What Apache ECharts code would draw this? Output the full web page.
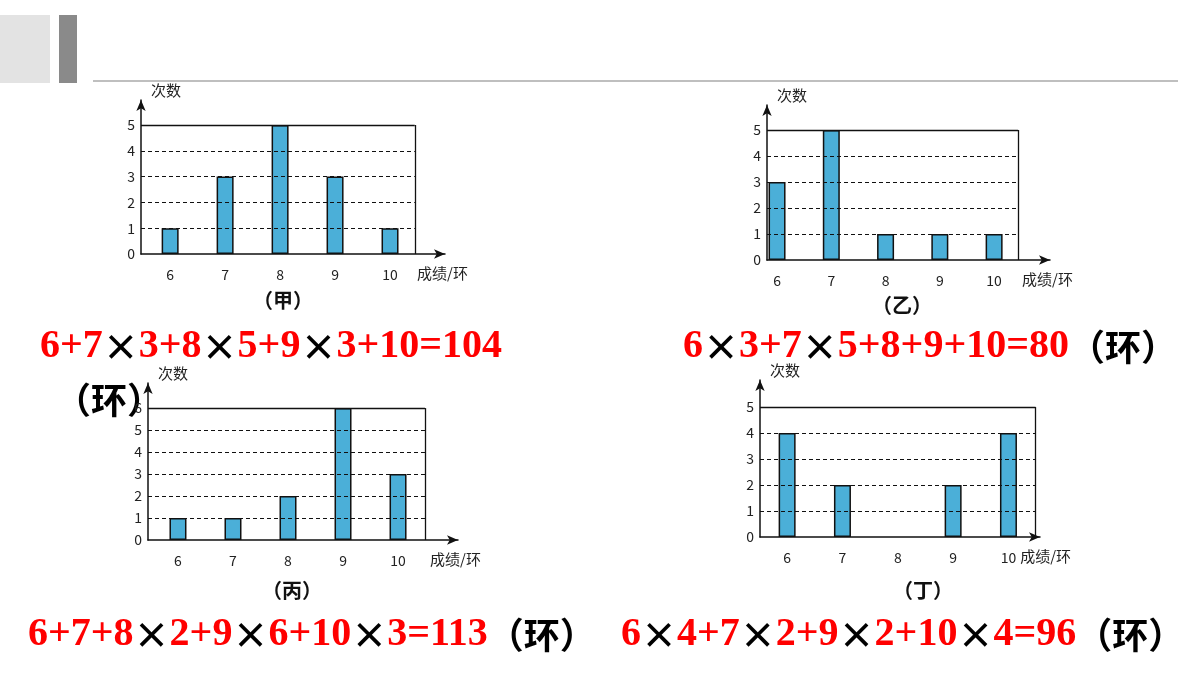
<!DOCTYPE html>
<html><head><meta charset="utf-8">
<script src="https://cdn.jsdelivr.net/npm/echarts@6/dist/echarts.min.js"></script>
<style>html,body{margin:0;padding:0;background:#fff}#c{width:1200px;height:675px}</style>
</head><body><div id="c"></div>
<script>
// 成绩 categories and counts
var scores = [6, 7, 8, 9, 10];
var countJia = [1, 3, 5, 3, 1];
var countYi = [3, 5, 1, 1, 1];
var countBing = [1, 1, 2, 6, 3];
var countDing = [4, 2, 0, 2, 4];
var titles = ['（甲）', '（乙）', '（丙）', '（丁）'];
var formulas = ['6+7×3+8×5+9×3+10=104', '6×3+7×5+8+9+10=80（环）', '6+7+8×2+9×6+10×3=113（环）', '6×4+7×2+9×2+10×4=96（环）'];

// per panel layout: grid box, axis ranges, frame edge
var panels = [
    {data: countJia, left: 141, top: 100, width: 304, height: 154, xMin: 5.47, xMax: 11.0, yMax: 5.97, boxX: 10.45, boxY: 5},
    {data: countYi, left: 767, top: 105, width: 283, height: 155, xMin: 5.815, xMax: 11.03, yMax: 5.96, boxX: 10.44, boxY: 5},
    {data: countBing, left: 148, top: 383, width: 310, height: 157, xMin: 5.455, xMax: 11.09, yMax: 7.14, boxX: 10.49, boxY: 6},
    {data: countDing, left: 760, top: 380, width: 280, height: 157, xMin: 5.51, xMax: 10.57, yMax: 6.04, boxX: 10.49, boxY: 5}
];

var grids = [], xAxes = [], yAxes = [], series = [];
panels.forEach(function (p, i) {
    grids.push({left: p.left, top: p.top, width: p.width, height: p.height});
    xAxes.push({
        type: 'value', gridIndex: i, min: p.xMin, max: p.xMax,
        name: '成绩/环', nameGap: -28, nameTextStyle: {color: '#222', fontSize: 15, align: 'left', verticalAlign: 'top', padding: [12, 0, 0, 0]},
        splitLine: {show: false},
        axisLine: {lineStyle: {color: '#111', width: 1.5}, symbol: ['none', 'arrow'], symbolSize: [7, 11]},
        axisTick: {show: false},
        axisLabel: {customValues: scores, color: '#222', fontSize: 14, margin: 14}
    });
    var ticks = [];
    for (var k = 0; k <= p.boxY; k++) ticks.push(k);
    yAxes.push({
        type: 'value', gridIndex: i, min: 0, max: p.yMax,
        name: '次数', nameGap: 2, nameLocation: 'end',
        nameTextStyle: {color: '#222', fontSize: 15, align: 'left', padding: [0, 0, 0, 10]},
        splitLine: {show: false},
        axisLine: {lineStyle: {color: '#111', width: 1.5}, symbol: ['none', 'arrow'], symbolSize: [7, 11]},
        axisTick: {show: false},
        axisLabel: {customValues: ticks, color: '#222', fontSize: 14, margin: 6}
    });
    var lines = [];
    for (var y = 1; y < p.boxY; y++) {
        lines.push([{coord: [p.xMin, y], lineStyle: {type: [4, 3], width: 1}}, {coord: [p.boxX, y]}]);
    }
    lines.push([{coord: [p.xMin, p.boxY], lineStyle: {type: 'solid', width: 1.3}}, {coord: [p.boxX, p.boxY]}]);
    lines.push([{coord: [p.boxX, 0], lineStyle: {type: 'solid', width: 1.3}}, {coord: [p.boxX, p.boxY]}]);
    series.push({
        type: 'bar', xAxisIndex: i, yAxisIndex: i, barWidth: 17,
        data: scores.map(function (s, j) { return [s, p.data[j] || null]; }),
        itemStyle: {color: '#4bafd8', borderColor: '#111', borderWidth: 1.5},
        markLine: {silent: true, symbol: 'none', label: {show: false}, lineStyle: {color: '#111'}, data: lines},
        z: 3
    });
});

// red formulas: digits in bold serif, × and （环） in CJK font
function txt(x, y, s) {
    var parts = s.split(/(×|（环）)/).filter(function (t) { return t; });
    var rich = {
        n: {fontFamily: '"Liberation Serif", serif', fontWeight: 'bold', fontSize: 40, fill: '#ff0000', color: '#ff0000'},
        c: {fontFamily: '"Noto Sans CJK SC", sans-serif', fontWeight: 'bold', fontSize: 36, color: '#ff0000'}
    };
    var text = parts.map(function (t) {
        return (t === '×' || t === '（环）') ? '{c|' + t + '}' : '{n|' + t + '}';
    }).join('');
    return {type: 'text', left: x, top: y, style: {text: text, rich: rich}};
}
var cap = {fill: '#111', font: 'bold 20px "Noto Sans CJK SC", sans-serif'};
var graphic = [
    {type: 'rect', left: 0, top: 15, shape: {width: 50, height: 68}, style: {fill: '#e3e3e3'}},
    {type: 'rect', left: 59, top: 15, shape: {width: 18, height: 68}, style: {fill: '#8a8a8a'}},
    {type: 'line', shape: {x1: 93, y1: 81, x2: 1178, y2: 81}, style: {stroke: '#aaa', lineWidth: 1.5}},
    {type: 'text', left: 253, top: 290, style: Object.assign({text: titles[0]}, cap)},
    {type: 'text', left: 872, top: 295, style: Object.assign({text: titles[1]}, cap)},
    {type: 'text', left: 262, top: 580, style: Object.assign({text: titles[2]}, cap)},
    {type: 'text', left: 893, top: 580, style: Object.assign({text: titles[3]}, cap)},
    txt(40, 327, formulas[0]),
    txt(55, 382, '（环）'),
    txt(683, 327, formulas[1]),
    txt(28, 615, formulas[2]),
    txt(621, 615, formulas[3])
];

var chart = echarts.init(document.getElementById('c'));
chart.setOption({
    animation: false,
    textStyle: {fontFamily: '"Noto Sans CJK SC", sans-serif'},
    grid: grids, xAxis: xAxes, yAxis: yAxes, series: series, graphic: graphic
});
</script></body></html>
